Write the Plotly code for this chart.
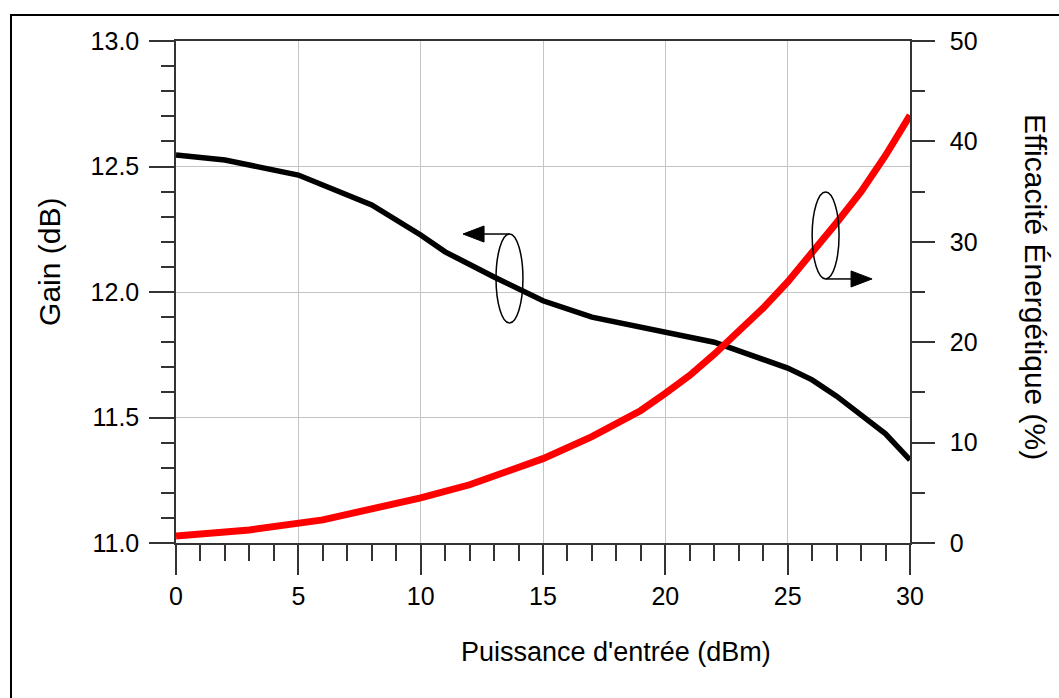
import plotly.graph_objects as go

# ---- data ----
gain_x = [0, 2, 5, 8, 10, 11, 13, 15, 17, 20, 22, 25, 26, 27, 28, 29, 30]
gain_db = [12.546, 12.526, 12.466, 12.347, 12.227, 12.16, 12.06, 11.965, 11.90,
           11.841, 11.80, 11.697, 11.65, 11.585, 11.51, 11.435, 11.331]

eff_x = [0, 3, 6, 10, 12, 15, 17, 19, 20, 21, 22, 23, 24, 25, 26, 27, 28, 29, 30]
efficacite_pct = [0.7, 1.3, 2.3, 4.5, 5.8, 8.4, 10.6, 13.2, 14.9, 16.7, 18.8,
                  21.0, 23.4, 26.0, 28.9, 31.9, 35.0, 38.6, 42.6]

x_title = "Puissance d'entrée (dBm)"
y_title = "Gain (dB)"
y2_title = "Efficacité Énergétique (%)"

FONT = "Liberation Sans, Arial, sans-serif"
AXC = "#333333"

fig = go.Figure()
fig.add_trace(go.Scatter(x=gain_x, y=gain_db, mode="lines",
                         line=dict(color="black", width=5.5),
                         yaxis="y", showlegend=False))
fig.add_trace(go.Scatter(x=eff_x, y=efficacite_pct, mode="lines",
                         line=dict(color="#ff0000", width=7),
                         yaxis="y2", showlegend=False))

tickfont = dict(family=FONT, size=25, color="black")

fig.update_layout(
    width=1059, height=698,
    margin=dict(l=176, r=149, t=41, b=155),
    paper_bgcolor="white", plot_bgcolor="white",
    xaxis=dict(range=[0, 30], dtick=5, tick0=0, showgrid=True, gridcolor="#c4c4c4",
               gridwidth=1, zeroline=False, showline=True, linecolor=AXC,
               linewidth=1.5, mirror=True, ticks="outside", ticklen=30,
               tickwidth=1.5, tickcolor=AXC, tickfont=tickfont,
               ticklabelstandoff=0,
               minor=dict(dtick=1, ticklen=16, tickwidth=1.5, tickcolor=AXC,
                          ticks="outside", showgrid=False)),
    yaxis=dict(range=[11, 13], dtick=0.5, tick0=11, tickformat=".1f",
               showgrid=True, gridcolor="#c4c4c4", gridwidth=1, zeroline=False,
               showline=True, linecolor=AXC, linewidth=1.5, ticks="outside",
               ticklen=25, tickwidth=1.5, tickcolor=AXC, tickfont=tickfont,
               ticklabelstandoff=5,
               minor=dict(dtick=0.1, ticklen=13, tickwidth=1.5, tickcolor=AXC,
                          ticks="outside", showgrid=False)),
    yaxis2=dict(range=[0, 50], dtick=10, tick0=0, overlaying="y", side="right",
                showgrid=False, zeroline=False, showline=True, linecolor=AXC,
                linewidth=1.5, ticks="outside", ticklen=23, tickwidth=1.5,
                tickcolor=AXC, tickfont=tickfont, ticklabelstandoff=10,
                minor=dict(dtick=5, ticklen=13, tickwidth=1.5, tickcolor=AXC,
                           ticks="outside", showgrid=False)),
)

# axis titles
fig.add_annotation(text=y_title, xref="paper", yref="paper", x=-0.1717, y=0.5598,
                   textangle=-90, showarrow=False, xanchor="center", yanchor="middle",
                   font=dict(family=FONT, size=30, color="black"))
fig.add_annotation(text=y2_title, xref="paper", yref="paper", x=1.1703, y=0.51,
                   textangle=90, showarrow=False, xanchor="center", yanchor="middle",
                   font=dict(family=FONT, size=30, color="black"))
fig.add_annotation(text=x_title, xref="paper", yref="paper", x=0.5995, y=-0.2171,
                   showarrow=False, xanchor="center", yanchor="middle",
                   font=dict(family=FONT, size=27, color="black"))

# outer frame
fig.add_shape(type="rect", xref="paper", yref="paper", x0=-0.2248, x1=1.3,
              y0=-0.4, y1=1.0518, line=dict(color="black", width=2), layer="above")

# ellipse + arrow marking the gain curve (-> left axis)
fig.add_shape(type="circle", xref="x", yref="y", x0=13.08, x1=14.18, y0=11.876, y1=12.231,
              line=dict(color="black", width=1.5))
fig.add_shape(type="line", xref="x", yref="y", x0=13.63, x1=12.59, y0=12.231, y1=12.231,
              line=dict(color="black", width=1.5))
fig.add_shape(type="path", xref="x", yref="y",
              path="M 11.73 12.231 L 12.59 12.263 L 12.59 12.199 Z",
              fillcolor="black", line=dict(color="black", width=1))

# ellipse + arrow marking the efficiency curve (-> right axis)
fig.add_shape(type="circle", xref="x", yref="y", x0=26.0, x1=27.10, y0=12.052, y1=12.398,
              line=dict(color="black", width=1.5))
fig.add_shape(type="line", xref="x", yref="y", x0=26.57, x1=27.59, y0=12.052, y1=12.052,
              line=dict(color="black", width=1.5))
fig.add_shape(type="path", xref="x", yref="y",
              path="M 28.45 12.052 L 27.59 12.084 L 27.59 12.020 Z",
              fillcolor="black", line=dict(color="black", width=1))

fig.write_html("out.html", config={"displayModeBar": False},
               post_script="document.body.style.margin='0px';document.body.style.overflow='hidden';")
